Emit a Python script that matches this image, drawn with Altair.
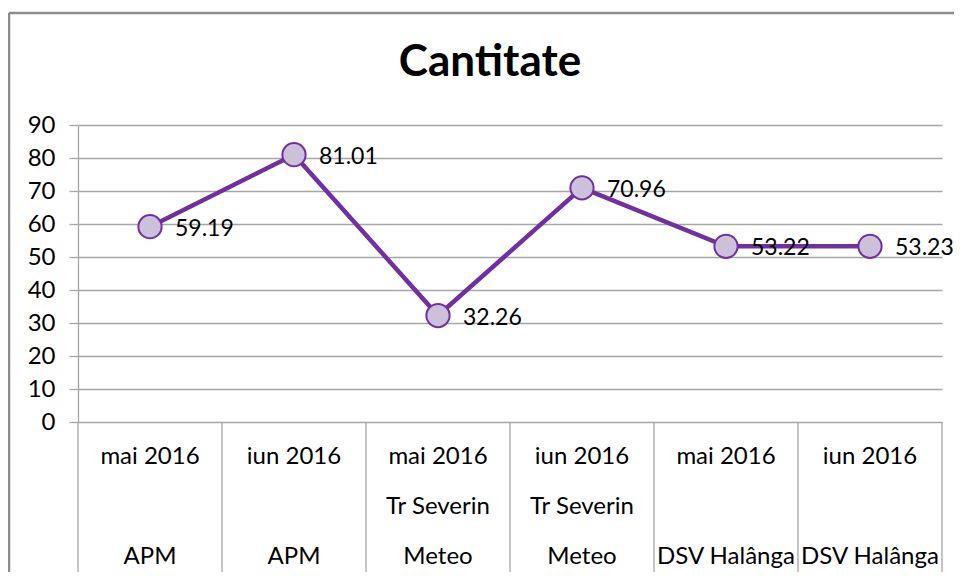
import altair as alt
import pandas as pd

# --- data ---
months = ["mai 2016", "iun 2016", "mai 2016", "iun 2016", "mai 2016", "iun 2016"]
places = ["", "", "Tr Severin", "Tr Severin", "", ""]
orgs = ["APM", "APM", "Meteo", "Meteo", "DSV Halânga", "DSV Halânga"]
values = [59.19, 81.01, 32.26, 70.96, 53.22, 53.23]
y_ticks = [0, 10, 20, 30, 40, 50, 60, 70, 80, 90]
title_text = "Cantitate"

FONT = "Lato"
PURPLE = "#7030A0"
LAVENDER = "#CCC0DA"
GRID = "#A6A6A6"
FRAME = "#8C8C8C"

df = pd.DataFrame({
    "idx": list(range(len(values))),
    "value": values,
    "month": months,
    "place": places,
    "org": orgs,
})
seps = pd.DataFrame({"pos": [i - 0.5 for i in range(len(values) + 1)]})
one = pd.DataFrame({"t": [title_text]})

xs = alt.Scale(domain=[-0.5, len(values) - 0.5], nice=False, zero=False)
ys = alt.Scale(domain=[0, 90], nice=False)

x_enc = alt.X("idx:Q", scale=xs, axis=None)
y_enc = alt.Y(
    "value:Q",
    scale=ys,
    axis=alt.Axis(
        values=y_ticks,
        title=None,
        grid=True,
        gridColor=GRID,
        gridWidth=1.3,
        tickColor=GRID,
        tickWidth=1.3,
        tickSize=9,
        domainColor=GRID,
        domainWidth=1.3,
        labelFont=FONT,
        labelFontSize=24,
        labelColor="#000000",
        labelPadding=14,
    ),
)

base = alt.Chart(df)

line = base.mark_line(color=PURPLE, strokeWidth=4.5).encode(x=x_enc, y=y_enc)
points = base.mark_point(
    shape="circle", filled=True, size=540, fill=LAVENDER, stroke=PURPLE,
    strokeWidth=2, opacity=1,
).encode(x=x_enc, y=y_enc)
labels = base.mark_text(
    align="left", baseline="middle", dx=25, dy=2, font=FONT, fontSize=23, color="#000000"
).encode(x=x_enc, y=y_enc, text=alt.Text("value:Q", format=".2f"))

sep_rules = alt.Chart(seps).mark_rule(color=GRID, strokeWidth=1.3).encode(
    x=alt.X("pos:Q", scale=xs, axis=None), y=alt.value(297), y2=alt.value(460)
)

def cat_text(field, yoff):
    return base.mark_text(
        align="center", baseline="middle", font=FONT, fontSize=24, color="#000000"
    ).encode(x=x_enc, y=alt.value(yoff), text=f"{field}:N")

frame_top = alt.Chart(one).mark_rule(color=FRAME, strokeWidth=2.5).encode(
    x=alt.value(-69), x2=alt.value(1000), y=alt.value(-112)
)
frame_left = alt.Chart(one).mark_rule(color=FRAME, strokeWidth=2.5).encode(
    x=alt.value(-69), y=alt.value(-112), y2=alt.value(600)
)
title = alt.Chart(one).mark_text(
    font=FONT, fontSize=44, fontWeight="bold", color="#000000",
    align="center", baseline="middle",
).encode(x=alt.value(412), y=alt.value(-62), text="t:N")

chart = alt.layer(
    frame_top, frame_left, title, sep_rules, line, points, labels,
    cat_text("month", 332), cat_text("place", 382), cat_text("org", 432),
).properties(
    width=864,
    height=297,
    autosize=alt.AutoSizeParams(type="none"),
    padding={"left": 70, "top": 117, "right": 12, "bottom": 150},
).configure_view(stroke=None)

chart.save("out.html", embed_options={"renderer": "svg", "actions": False})
